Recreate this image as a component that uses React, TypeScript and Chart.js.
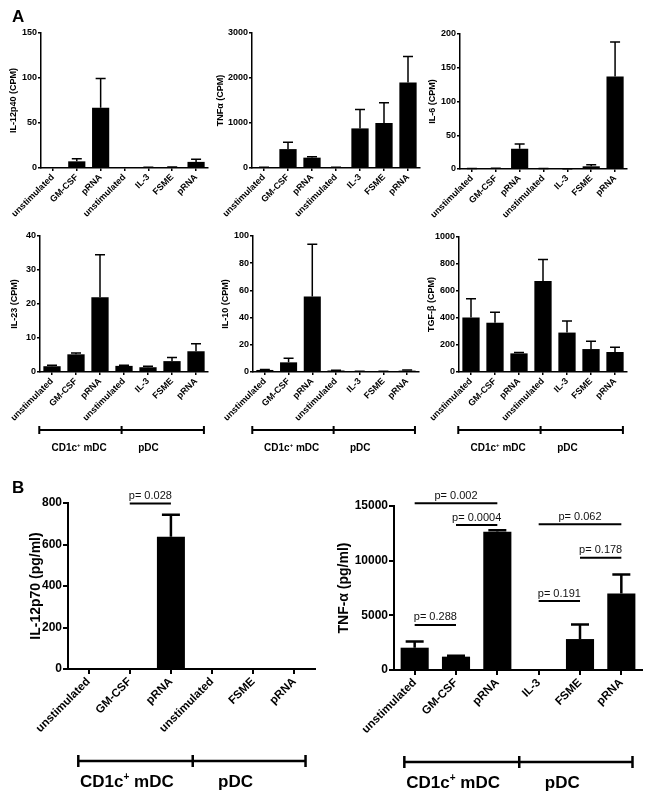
import React, { useEffect, useRef } from "react";
import { Chart, registerables } from "chart.js";

Chart.register(...registerables);

const FONT = "'Liberation Sans', Arial, Helvetica, sans-serif";

// ---------- data ----------
const catsA = ["unstimulated", "GM-CSF", "pRNA", "unstimulated", "IL-3", "FSME", "pRNA"];

const il12p40Mean = [0, 7.4, 67, 0, 0.5, 0.9, 6.8];
const il12p40Err = [0, 2.8, 32.5, 0, 0.2, 0.2, 2.9];

const tnfCpmMean = [15, 420, 230, 15, 880, 1000, 1900];
const tnfCpmErr = [3, 150, 20, 3, 420, 450, 580];

const il6Mean = [0.6, 1, 30, 0.8, 0.4, 4, 137];
const il6Err = [0.1, 0.2, 7, 0.1, 0.1, 2.4, 51];

const il23Mean = [1.7, 5.2, 22, 1.8, 1.4, 3.2, 6.1];
const il23Err = [0.3, 0.4, 12.5, 0.2, 0.3, 1.1, 2.2];

const il10Mean = [1.5, 7.1, 55.5, 1.1, 0.5, 0.5, 1];
const il10Err = [0.4, 3, 38.5, 0.2, 0.1, 0.1, 0.4];

const tgfMean = [404, 365, 138, 675, 292, 170, 148];
const tgfErr = [138, 78, 7, 158, 86, 58, 36];

const catsB1 = ["unstimulated", "GM-CSF", "pRNA", "unstimulated", "FSME", "pRNA"];
const il12p70Mean = [0, 0, 637, 0, 0, 0];
const il12p70Err = [0, 0, 106, 0, 0, 0];

const catsB2 = ["unstimulated", "GM-CSF", "pRNA", "IL-3", "FSME", "pRNA"];
const tnfPgMean = [2040, 1220, 12650, 0, 2830, 7000];
const tnfPgErr = [560, 80, 130, 0, 1340, 1730];

const pB1From = [1];
const pB1To = [2];
const pB1Y = [797];
const pB1Text = ["p= 0.028"];

const pB2From = [0, 1, 0, 3, 4, 3];
const pB2To = [2, 2, 1, 5, 5, 4];
const pB2Y = [15250, 13260, 4120, 13320, 10270, 6310];
const pB2Text = ["p= 0.002", "p= 0.0004", "p= 0.288", "p= 0.062", "p= 0.178", "p= 0.191"];

// ---------- styles ----------
const styleA = {
  tick: 9, xTick: 9, title: 9, axis: 1.5, tickLen: 3, err: 1.5, cap: 5, bar: 0.72,
  group: 10, brTick: 4, brW: 2, yW: 30, xH: 60, brDy: 58, lbDy: 76,
  br: [-0.53, 6.33, 2.9], lb: [1.13, 4.02], pFont: 11,
};
const styleB = {
  tick: 12, xTick: 11.5, title: 14, axis: 2, tickLen: 5, err: 2.5, cap: 9, bar: 0.68,
  group: 17, brTick: 6, brW: 2.5, yW: 40, xH: 80, brDy: 92, lbDy: 113,
  br: [-0.25, 5.27, 2.53], lb: [0.93, 3.57], pFont: 11,
};

type PCfg = {
  labels: string[]; mean: number[]; err: number[]; max: number; step: number; title: string;
  box: { l: number; r: number; t: number; b: number }; titleX: number; s: any; group?: boolean;
  p?: { from: number[]; to: number[]; y: number[]; text: string[] };
};

const panels: PCfg[] = [
  { labels: catsA, mean: il12p40Mean, err: il12p40Err, max: 150, step: 50, title: "IL-12p40 (CPM)", box: { l: 41, r: 208, t: 33, b: 168 }, titleX: 14, s: styleA },
  { labels: catsA, mean: tnfCpmMean, err: tnfCpmErr, max: 3000, step: 1000, title: "TNFα (CPM)", box: { l: 252, r: 420, t: 33, b: 168 }, titleX: 221, s: styleA },
  { labels: catsA, mean: il6Mean, err: il6Err, max: 200, step: 50, title: "IL-6 (CPM)", box: { l: 460, r: 627, t: 34, b: 169 }, titleX: 433, s: styleA },
  { labels: catsA, mean: il23Mean, err: il23Err, max: 40, step: 10, title: "IL-23 (CPM)", box: { l: 40, r: 208, t: 236, b: 372 }, titleX: 15, s: styleA, group: true },
  { labels: catsA, mean: il10Mean, err: il10Err, max: 100, step: 20, title: "IL-10 (CPM)", box: { l: 253, r: 419, t: 236, b: 372 }, titleX: 226, s: styleA, group: true },
  { labels: catsA, mean: tgfMean, err: tgfErr, max: 1000, step: 200, title: "TGF-β (CPM)", box: { l: 459, r: 627, t: 237, b: 372 }, titleX: 432, s: styleA, group: true },
  { labels: catsB1, mean: il12p70Mean, err: il12p70Err, max: 800, step: 200, title: "IL-12p70 (pg/ml)", box: { l: 68, r: 315, t: 503, b: 669 }, titleX: 36, s: styleB, group: true,
    p: { from: pB1From, to: pB1To, y: pB1Y, text: pB1Text } },
  { labels: catsB2, mean: tnfPgMean, err: tnfPgErr, max: 15000, step: 5000, title: "TNF-α (pg/ml)", box: { l: 394, r: 642, t: 506, b: 670 }, titleX: 344, s: styleB, group: true,
    p: { from: pB2From, to: pB2To, y: pB2Y, text: pB2Text } },
];

function drawGroupLabels(ctx: CanvasRenderingContext2D, x1: number, x2: number, y: number, size: number) {
  ctx.fillStyle = "#000";
  ctx.textBaseline = "middle";
  ctx.textAlign = "left";
  const big = `bold ${size}px ${FONT}`;
  const small = `bold ${Math.round(size * 0.6)}px ${FONT}`;
  ctx.font = big;
  const w1 = ctx.measureText("CD1c").width;
  const w3 = ctx.measureText(" mDC").width;
  ctx.font = small;
  const w2 = ctx.measureText("+").width;
  const total = w1 + w2 + w3;
  let x = x1 - total / 2;
  ctx.font = big;
  ctx.fillText("CD1c", x, y);
  x += w1;
  ctx.font = small;
  ctx.fillText("+", x, y - size * 0.3);
  x += w2;
  ctx.font = big;
  ctx.fillText(" mDC", x, y);
  ctx.textAlign = "center";
  ctx.fillText("pDC", x2, y);
}

function Panel({ cfg }: { cfg: PCfg }) {
  const ref = useRef<HTMLCanvasElement>(null);
  useEffect(() => {
    const s = cfg.s;
    const overlay = {
      id: "overlay",
      afterDatasetsDraw(chart: any) {
        const ctx: CanvasRenderingContext2D = chart.ctx;
        const ys = chart.scales.y;
        const meta = chart.getDatasetMeta(0);
        ctx.save();
        ctx.strokeStyle = "#000";
        ctx.lineWidth = s.err;
        meta.data.forEach((bar: any, i: number) => {
          if (!cfg.err[i]) return;
          const by = ys.getPixelForValue(cfg.mean[i]);
          const ty = ys.getPixelForValue(cfg.mean[i] + cfg.err[i]);
          ctx.beginPath();
          ctx.moveTo(bar.x, by);
          ctx.lineTo(bar.x, ty);
          ctx.moveTo(bar.x - s.cap, ty);
          ctx.lineTo(bar.x + s.cap, ty);
          ctx.stroke();
        });
        ctx.restore();
      },
      afterDraw(chart: any) {
        const ctx: CanvasRenderingContext2D = chart.ctx;
        const xs = chart.scales.x;
        const ys = chart.scales.y;
        const area = chart.chartArea;
        ctx.save();
        ctx.fillStyle = "#000";
        ctx.font = `bold ${s.title}px ${FONT}`;
        ctx.translate(cfg.titleX, (area.top + area.bottom) / 2);
        ctx.rotate(-Math.PI / 2);
        ctx.textAlign = "center";
        ctx.textBaseline = "middle";
        ctx.fillText(cfg.title, 0, 0);
        ctx.restore();

        if (cfg.p) {
          ctx.save();
          ctx.strokeStyle = "#000";
          ctx.fillStyle = "#111";
          ctx.lineWidth = 2;
          ctx.font = `${s.pFont}px ${FONT}`;
          ctx.textAlign = "center";
          ctx.textBaseline = "bottom";
          cfg.p.y.forEach((v, k) => {
            const y = ys.getPixelForValue(v);
            const xa = xs.getPixelForValue(cfg.p!.from[k]);
            const xb = xs.getPixelForValue(cfg.p!.to[k]);
            ctx.beginPath();
            ctx.moveTo(xa, y);
            ctx.lineTo(xb, y);
            ctx.stroke();
            ctx.fillText(cfg.p!.text[k], (xa + xb) / 2, y - 2);
          });
          ctx.restore();
        }

        if (cfg.group) {
          ctx.save();
          ctx.strokeStyle = "#000";
          ctx.lineWidth = s.brW;
          const by = area.bottom + s.brDy;
          const x0 = xs.getPixelForValue(s.br[0]);
          const x1 = xs.getPixelForValue(s.br[1]);
          const xm = xs.getPixelForValue(s.br[2]);
          ctx.beginPath();
          ctx.moveTo(x0, by);
          ctx.lineTo(x1, by);
          [x0, xm, x1].forEach((xx) => {
            ctx.moveTo(xx, by - s.brTick);
            ctx.lineTo(xx, by + s.brTick);
          });
          ctx.stroke();
          drawGroupLabels(ctx, xs.getPixelForValue(s.lb[0]), xs.getPixelForValue(s.lb[1]), area.bottom + s.lbDy, s.group);
          ctx.restore();
        }
      },
    };

    const tickFont = { family: FONT, size: s.tick, weight: "bold" as const };
    const xFont = { family: FONT, size: s.xTick, weight: "bold" as const };
    const chart = new Chart(ref.current!, {
      type: "bar",
      data: {
        labels: cfg.labels,
        datasets: [
          {
            data: cfg.mean,
            backgroundColor: "#000",
            borderWidth: 0,
            barPercentage: s.bar,
            categoryPercentage: 1,
          },
        ],
      },
      options: {
        animation: false,
        responsive: false,
        maintainAspectRatio: false,
        devicePixelRatio: 1,
        events: [],
        layout: {
          padding: {
            left: cfg.box.l - s.yW,
            top: cfg.box.t,
            right: 650 - cfg.box.r,
            bottom: 798 - cfg.box.b - s.xH,
          },
        },
        plugins: { legend: { display: false }, tooltip: { enabled: false }, title: { display: false } },
        scales: {
          x: {
            offset: true,
            grid: { display: true, drawOnChartArea: false, drawTicks: true, tickLength: s.tickLen, offset: false, color: "#000", lineWidth: s.axis },
            border: { display: true, color: "#000", width: s.axis },
            ticks: { color: "#000", font: xFont, maxRotation: 45, minRotation: 45, autoSkip: false, padding: 1 },
            afterFit: (sc: any) => {
              sc.height = s.xH;
            },
          },
          y: {
            min: 0,
            max: cfg.max,
            grid: { display: true, drawOnChartArea: false, drawTicks: true, tickLength: s.tickLen, color: "#000", lineWidth: s.axis },
            border: { display: true, color: "#000", width: s.axis },
            ticks: { stepSize: cfg.step, color: "#000", font: tickFont, padding: 1, callback: (v: any) => String(v) },
            afterFit: (sc: any) => {
              sc.width = s.yW;
            },
          },
        },
      } as any,
      plugins: [overlay],
    });
    return () => chart.destroy();
  }, []);
  return (
    <canvas
      ref={ref}
      width={650}
      height={798}
      style={{ position: "absolute", left: 0, top: 0, width: 650, height: 798 }}
    />
  );
}

const letterStyle: React.CSSProperties = {
  position: "absolute",
  left: 12,
  fontFamily: FONT,
  fontWeight: "bold",
  fontSize: 17,
  lineHeight: "17px",
  color: "#000",
};

export default function App() {
  return (
    <div style={{ position: "absolute", left: 0, top: 0, width: 650, height: 798, background: "#fff", overflow: "hidden" }}>
      {panels.map((p, i) => (
        <Panel key={i} cfg={p} />
      ))}
      <div style={{ ...letterStyle, top: 8 }}>A</div>
      <div style={{ ...letterStyle, top: 479 }}>B</div>
    </div>
  );
}
